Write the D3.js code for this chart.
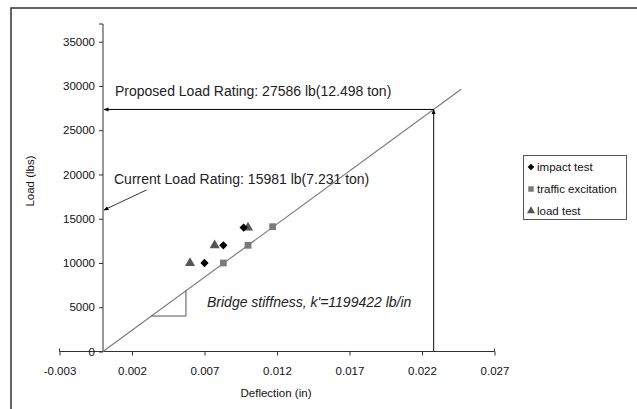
<!DOCTYPE html>
<html>
<head>
<meta charset="utf-8">
<script src="https://cdn.jsdelivr.net/npm/d3@7"></script>
<style>
body { margin: 0; background: #fff; }
text { font-family: "Liberation Sans", Arial, sans-serif; }
</style>
</head>
<body>
<div id="graph"></div>
<script>
// data
var xTicks = [-0.003, 0.002, 0.007, 0.012, 0.017, 0.022, 0.027];
var yTicks = [0, 5000, 10000, 15000, 20000, 25000, 30000, 35000];

var impactDefl = [0.0070, 0.0083, 0.0097];
var impactLoad = [10000, 12000, 14000];
var trafficDefl = [0.0083, 0.0100, 0.0117];
var trafficLoad = [10000, 12000, 14100];
var loadDefl = [0.0060, 0.0077, 0.0100];
var loadLoad = [10000, 12000, 14000];

var stiffness = 1199422;      // lb/in
var stiffEnd = 0.0247;        // end of the fitted line
var proposedDefl = 0.0228;    // where the rating arrows meet the line
var currentRating = 15981;
var currentFrom = [0.0030, 18250];
var triDefl = [0.00334, 0.00572];

var seriesNames = ["impact test", "traffic excitation", "load test"];

var width = 637, height = 409;

var svg = d3.select('#graph')
			.append('svg')
			.attr("width", width)
			.attr("height", height);

// outer chart frame (clipped on the right and bottom like the original)
svg.append('path')
	.attr('d', 'M11,409 L11,8 L637,8')
	.attr('fill', 'none')
	.attr('stroke', '#333')
	.attr('stroke-width', 1.5);

var x = d3.scaleLinear().domain([-0.003, 0.027]).range([59.5, 494.5]);
var y = d3.scaleLinear().domain([0, 37000]).range([351.5, 24]);

var defs = svg.append('defs');
defs.append('marker')
	.attr('id', 'arrow')
	.attr('viewBox', '0 0 10 10')
	.attr('refX', 9).attr('refY', 5)
	.attr('markerWidth', 5).attr('markerHeight', 5)
	.attr('markerUnits', 'userSpaceOnUse')
	.attr('orient', 'auto')
	.append('path')
	.attr('d', 'M0,1 L10,5 L0,9 Z')
	.attr('fill', '#000');

// axes
var xAxis = d3.axisBottom(x).tickValues(xTicks).tickSize(4)
	.tickFormat(d => d3.format('.3f')(d).replace('\u2212', '-'));
var yAxis = d3.axisLeft(y).tickValues(yTicks).tickSize(4)
	.tickFormat(d3.format('d'));

var gx = svg.append('g')
	.attr('transform', 'translate(0,' + y(0) + ')')
	.call(xAxis);
gx.select('.domain').attr('d', 'M' + x(-0.003) + ',-3V0H' + x(0.027) + 'V-3');

var gy = svg.append('g')
	.attr('transform', 'translate(' + x(0) + ',0)')
	.call(yAxis);
gy.select('.domain').attr('d', 'M-4,' + y(37000) + 'H0V' + y(0));

svg.selectAll('.tick text')
	.attr('font-size', '11.5px')
	.attr('fill', '#111')
	.attr('font-family', '"Liberation Sans", Arial, sans-serif');
gx.selectAll('.tick text').attr('dy', '1.05em').attr('y', 11);
gy.selectAll('.tick text').attr('x', -8);
svg.selectAll('.domain, .tick line').attr('stroke', '#333');

// axis titles
svg.append('text')
	.attr('x', 276).attr('y', 397)
	.attr('text-anchor', 'middle')
	.attr('font-size', '11.5px')
	.attr('fill', '#111')
	.text('Deflection (in)');

svg.append('text')
	.attr('transform', 'translate(34,181) rotate(-90)')
	.attr('text-anchor', 'middle')
	.attr('font-size', '11.5px')
	.attr('fill', '#111')
	.text('Load (lbs)');

// stiffness line
svg.append('line')
	.attr('x1', x(0)).attr('y1', y(0))
	.attr('x2', x(stiffEnd)).attr('y2', y(stiffEnd * stiffness))
	.attr('stroke', '#777')
	.attr('stroke-width', 1.1);

// slope triangle
svg.append('path')
	.attr('d', 'M' + x(triDefl[0]) + ',' + y(triDefl[0] * stiffness) +
		'H' + x(triDefl[1]) + 'V' + y(triDefl[1] * stiffness))
	.attr('fill', 'none')
	.attr('stroke', '#555')
	.attr('stroke-width', 1);

// proposed load rating arrows
var pLoad = proposedDefl * stiffness;
svg.append('line')
	.attr('x1', x(proposedDefl)).attr('y1', y(pLoad))
	.attr('x2', x(0) + 1).attr('y2', y(pLoad))
	.attr('stroke', '#000').attr('stroke-width', 1)
	.attr('marker-end', 'url(#arrow)');
svg.append('line')
	.attr('x1', x(proposedDefl)).attr('y1', y(0))
	.attr('x2', x(proposedDefl)).attr('y2', y(pLoad))
	.attr('stroke', '#333').attr('stroke-width', 1.2)
	.attr('marker-end', 'url(#arrow)');

// current load rating arrow
svg.append('line')
	.attr('x1', x(currentFrom[0])).attr('y1', y(currentFrom[1]))
	.attr('x2', x(0) + 1).attr('y2', y(currentRating))
	.attr('stroke', '#333').attr('stroke-width', 1)
	.attr('marker-end', 'url(#arrow)');

// annotations
svg.append('text')
	.attr('x', 115).attr('y', 96)
	.attr('font-size', '14px').attr('fill', '#222')
	.text('Proposed Load Rating: 27586 lb(12.498 ton)');
svg.append('text')
	.attr('x', 114).attr('y', 184)
	.attr('font-size', '14px').attr('fill', '#222')
	.text('Current Load Rating: 15981 lb(7.231 ton)');
svg.append('text')
	.attr('x', 207).attr('y', 307)
	.attr('font-size', '14px').attr('font-style', 'italic').attr('fill', '#222')
	.text("Bridge stiffness, k'=1199422 lb/in");

// data points
var diamond = d3.symbol().type(d3.symbolDiamond2).size(44);
var square = d3.symbol().type(d3.symbolSquare).size(46);
var triangle = d3.symbol().type(d3.symbolTriangle).size(44);

svg.append('g').selectAll('path')
	.data(d3.zip(trafficDefl, trafficLoad))
	.enter().append('path')
	.attr('d', square)
	.attr('transform', d => 'translate(' + x(d[0]) + ',' + y(d[1]) + ')')
	.attr('fill', '#7a7a7a');

svg.append('g').selectAll('path')
	.data(d3.zip(loadDefl, loadLoad))
	.enter().append('path')
	.attr('d', triangle)
	.attr('transform', d => 'translate(' + x(d[0]) + ',' + y(d[1]) + ')')
	.attr('fill', '#555');

svg.append('g').selectAll('path')
	.data(d3.zip(impactDefl, impactLoad))
	.enter().append('path')
	.attr('d', diamond)
	.attr('transform', d => 'translate(' + x(d[0]) + ',' + y(d[1]) + ')')
	.attr('fill', '#000');

// legend
var legend = svg.append('g').attr('transform', 'translate(523,155)');
legend.append('rect')
	.attr('x', 0.5).attr('y', 0.5)
	.attr('width', 103).attr('height', 64)
	.attr('fill', '#fff')
	.attr('stroke', '#555');

var legSym = [
	{ sym: d3.symbol().type(d3.symbolDiamond2).size(28), fill: '#000' },
	{ sym: d3.symbol().type(d3.symbolSquare).size(30), fill: '#7a7a7a' },
	{ sym: d3.symbol().type(d3.symbolTriangle).size(28), fill: '#555' }
];

var items = legend.selectAll('g.item')
	.data(seriesNames)
	.enter().append('g')
	.attr('class', 'item')
	.attr('transform', (d, i) => 'translate(0,' + (11 + i * 22) + ')');

items.append('path')
	.attr('d', (d, i) => legSym[i].sym())
	.attr('transform', 'translate(8,1)')
	.attr('fill', (d, i) => legSym[i].fill);

items.append('text')
	.attr('x', 14).attr('y', 5)
	.attr('font-size', '11.5px').attr('fill', '#111')
	.text(d => d);
</script>
</body>
</html>
